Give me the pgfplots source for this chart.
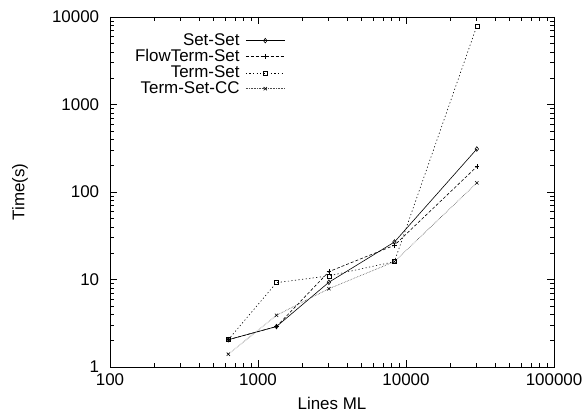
\documentclass[border=0pt]{standalone}
\usepackage{pgfplots}
\pgfplotsset{compat=1.18}
\usepackage{fontspec}
\setmainfont{Liberation Sans}
\begin{document}
\fontsize{17}{18}\selectfont
\begin{tikzpicture}
\path[use as bounding box] (0bp,0bp) rectangle (585bp,417bp);
\begin{axis}[
  at={(110bp,50bp)}, anchor=south west,
  scale only axis,
  width=444bp, height=350bp,
  xmode=log, ymode=log,
  xmin=100, xmax=100000, ymin=1, ymax=10000,
  xtick={100,1000,10000,100000},
  xticklabels={100,1000,10000,100000},
  ytick={1,10,100,1000,10000},
  yticklabels={1,10,100,1000,10000},
  tick align=inside,
  major tick length=7bp,
  minor tick length=4bp,
  tick style={black, line width=0.6pt},
  axis line style={line width=0.9pt},
  xticklabel style={yshift=-1bp},
  yticklabel style={xshift=-5bp},
  tick label style={font=\fontsize{17}{18}\selectfont},
  legend style={draw=none, fill=none, at={(rel axis cs:0.397,0.962)}, anchor=north east,
    font=\fontsize{17}{17}\selectfont, row sep=-2.5bp, inner sep=1bp, column sep=4bp},
  legend cell align=right,
  legend plot pos=right,
  legend image code/.code={\draw[#1,mark=none] (-19.5bp,0bp) -- (19.5bp,0bp);
     \draw[#1,solid] plot coordinates {(0bp,0bp)};},
  every axis plot/.append style={line width=0.6pt, mark size=2.3bp},
  clip=false,
]
\addplot[black, mark=diamond, mark options={solid}] coordinates {
 (630,2.05) (1333,2.9) (3013,9.3) (8350,26.8) (30100,310)};
\addlegendentry{Set-Set}
\addplot[black, dash pattern=on 3pt off 2pt, mark=+, mark options={solid}] coordinates {
 (630,2.05) (1333,2.9) (3013,12.3) (8350,24.6) (30100,195)};
\addlegendentry{FlowTerm-Set}
\addplot[black, dash pattern=on 1.2pt off 2.4pt, mark=square, mark options={solid, mark size=2bp}] coordinates {
 (630,2.05) (1333,9.2) (3013,11) (8350,16) (30100,7900)};
\addlegendentry{Term-Set}
\addplot[black!70, dash pattern=on 0.6pt off 1.0pt, mark=x, mark options={solid, black}] coordinates {
 (630,1.4) (1333,3.9) (3013,7.85) (8350,16) (30100,127)};
\addlegendentry{Term-Set-CC}
\node[anchor=center] at (rel axis cs:0.5,-0.103) {Lines ML};
\node[anchor=center, rotate=90] at (rel axis cs:-0.2027,0.5) {Time(s)};
\end{axis}
\end{tikzpicture}
\end{document}
